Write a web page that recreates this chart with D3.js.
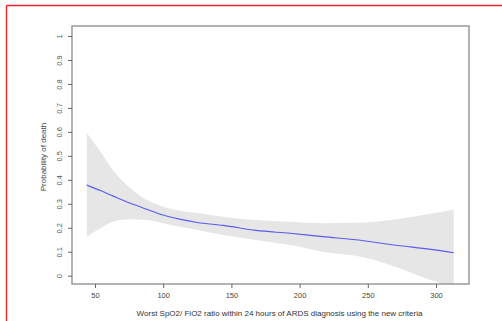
<!DOCTYPE html>
<html><head><meta charset="utf-8">
<script src="https://cdn.jsdelivr.net/npm/d3@7"></script>
<style>html,body{margin:0;padding:0;background:#fff;}svg{display:block;}</style>
</head><body>
<svg id="c" width="502" height="321"></svg>
<script>
const xVals = [44, 54, 63, 76, 88, 100, 112, 125, 144, 168, 193, 217, 247, 271, 296, 313];
const fit   = [0.378, 0.355, 0.333, 0.302, 0.277, 0.253, 0.236, 0.222, 0.210, 0.189, 0.177, 0.163, 0.146, 0.127, 0.110, 0.096];
const upper = [0.595, 0.517, 0.441, 0.365, 0.316, 0.288, 0.271, 0.262, 0.246, 0.232, 0.225, 0.219, 0.222, 0.235, 0.258, 0.276];
const lower = [0.163, 0.198, 0.225, 0.235, 0.232, 0.219, 0.204, 0.191, 0.170, 0.149, 0.128, 0.100, 0.077, 0.035, -0.018, -0.046];
const xTicks = [50, 100, 150, 200, 250, 300];
const yTicks = [0, 0.1, 0.2, 0.3, 0.4, 0.5, 0.6, 0.7, 0.8, 0.9, 1];
const xTitle = "Worst SpO2/ FiO2 ratio within 24 hours of ARDS diagnosis using the new criteria";
const yTitle = "Probability of death";

const svg = d3.select("#c");
const font = "'Liberation Sans', Arial, sans-serif";
const box = {l: 72, r: 469, t: 26, b: 284};

const x = d3.scaleLinear().domain([50, 300]).range([95, 436]);
const y = d3.scaleLinear().domain([0, 1]).range([275.7, 36]);

// red frame
svg.append("line").attr("x1", 6.5).attr("x2", 502).attr("y1", 5.5).attr("y2", 5.5)
  .attr("stroke", "#e3262e").attr("stroke-width", 1.4);
svg.append("line").attr("x1", 6.5).attr("x2", 6.5).attr("y1", 5.5).attr("y2", 321)
  .attr("stroke", "#e3262e").attr("stroke-width", 1.4);

svg.append("clipPath").attr("id", "clip").append("rect")
  .attr("x", box.l).attr("y", box.t).attr("width", box.r - box.l).attr("height", box.b - box.t);

const data = xVals.map((v, i) => ({x: v, f: fit[i], lo: lower[i], hi: upper[i]}));
const g = svg.append("g").attr("clip-path", "url(#clip)");
g.append("path").datum(data)
  .attr("d", d3.area().x(d => x(d.x)).y0(d => y(d.lo)).y1(d => y(d.hi)).curve(d3.curveMonotoneX))
  .attr("fill", "#e6e6e6");
g.append("path").datum(data)
  .attr("d", d3.line().x(d => x(d.x)).y(d => y(d.f)).curve(d3.curveMonotoneX))
  .attr("fill", "none").attr("stroke", "#5a5af0").attr("stroke-width", 1.1);

// box
svg.append("rect").attr("x", box.l).attr("y", box.t).attr("width", box.r - box.l).attr("height", box.b - box.t)
  .attr("fill", "none").attr("stroke", "#8a8a8a").attr("stroke-width", 1.3);

// x axis
const xAxis = svg.append("g").attr("transform", `translate(0,${box.b})`)
  .call(d3.axisBottom(x).tickValues(xTicks).tickSize(4).tickSizeOuter(0).tickPadding(5).tickFormat(d3.format("d")));
xAxis.select(".domain").remove();
xAxis.selectAll("line").attr("stroke", "#666");
xAxis.selectAll("text").attr("font-family", font).attr("font-size", 7.5).attr("fill", "#444");

// y axis
const yAxis = svg.append("g").attr("transform", `translate(${box.l},0)`)
  .call(d3.axisLeft(y).tickValues(yTicks).tickSize(4).tickSizeOuter(0).tickFormat(d => String(d)));
yAxis.select(".domain").remove();
yAxis.selectAll("line").attr("stroke", "#666");
yAxis.selectAll("text").attr("font-family", font).attr("font-size", 7.5).attr("fill", "#555")
  .attr("transform", "rotate(-90)").attr("x", 0).attr("y", -10.5).attr("dy", 0)
  .attr("text-anchor", "middle")
  .attr("transform", function() { return "rotate(-90)"; });
// reposition rotated tick labels
yAxis.selectAll(".tick").each(function(d) {
  const t = d3.select(this);
  t.select("text").attr("transform", "translate(-10.5,0) rotate(-90)").attr("x", 0).attr("y", 0).attr("dy", "0");
});

svg.append("text").attr("x", 279.5).attr("y", 316).attr("text-anchor", "middle")
  .attr("font-family", font).attr("font-size", 8).attr("fill", "#333").text(xTitle);
svg.append("text").attr("transform", "translate(46,157) rotate(-90)").attr("text-anchor", "middle")
  .attr("font-family", font).attr("font-size", 8).attr("fill", "#444").text(yTitle);
</script>
</body></html>
